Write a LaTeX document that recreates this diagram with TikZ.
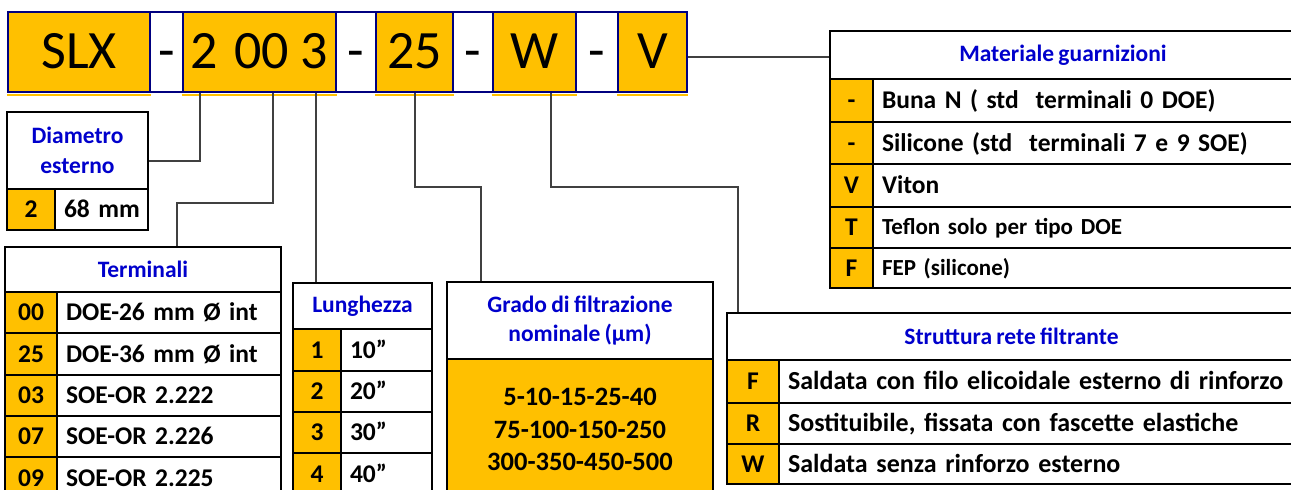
\documentclass[tikz,border=0pt]{standalone}
\usepackage{fontspec}
\setmainfont{Carlito}[WordSpace=0.8]
\definecolor{ora}{HTML}{FFC000}
\definecolor{hblue}{RGB}{0,0,204}
\definecolor{navy}{RGB}{0,0,128}
\newcommand\rc[7]{\pgfmathsetmacro\cw{#4-#2}\pgfmathsetmacro\ch{#5-#3}%
  \node[#1, minimum width=\cw pt, minimum height=\ch pt] (#6) at ({(#2+#4)/2},{(#3+#5)/2}) {#7};}
\newcommand\lc[7]{\pgfmathsetmacro\cw{#4-#2}\pgfmathsetmacro\ch{#5-#3}\pgfmathsetmacro\tw{#4-#2-18}%
  \node[#1, minimum width=\cw pt, minimum height=\ch pt, text width=\tw pt, inner xsep=9pt, align=left] (#6) at ({(#2+#4)/2},{(#3+#5)/2}) {\makebox[0pt][l]{#7}};}
\begin{document}
\begin{tikzpicture}[x=1pt,y=-1pt,
  tbl/.style={draw=black, line width=2.4pt, inner sep=0pt},
  fs/.style={font=\bfseries\fontsize{#1}{#1}\selectfont, text height=#1*0.8pt, text depth=#1*0.16pt},
  code/.style={tbl, fill=ora, fs=25.5},
  desc/.style={tbl, fill=white, fs=25.5},
  head/.style={tbl, fill=white, text=hblue, align=center, font=\bfseries\fontsize{23.5}{29.5}\selectfont},
  body/.style={tbl, fill=ora, align=center, font=\bfseries\fontsize{26.5}{32.5}\selectfont},
  barO/.style={draw=navy, line width=1.8pt, fill=ora, inner sep=0pt, font=\fontsize{54}{60}\selectfont, text height=39pt, text depth=7pt},
  barW/.style={barO, fill=white},
  shade/.style={draw=ora, line width=1.6pt},
  conn/.style={draw=black!75, line width=1.3pt}]
\useasboundingbox (0,0) rectangle (1291,490);
\clip (0,0) rectangle (1291,490);
\fill[white] (0,0) rectangle (1291,490);
% top code bar
\rc{barO}{8}{12}{150}{92}{cSLX}{SLX}
\rc{barW}{150}{12}{183}{92}{d1}{-}
\rc{barO}{183}{12}{336}{92}{c2003}{2\hspace{16pt}00\hspace{12pt}3}
\rc{barW}{336}{12}{376}{92}{d2}{-}
\rc{barO}{376}{12}{453}{92}{c25}{25}
\rc{barW}{453}{12}{493}{92}{d3}{-}
\rc{barO}{493}{12}{576}{92}{cW}{W}
\rc{barW}{576}{12}{618}{92}{d4}{-}
\rc{barO}{618}{12}{687}{92}{cV}{V}
\foreach \c in {cSLX,c2003,c25,cW,cV}
  \draw[shade] ([yshift=-1.8pt]\c.south west) -- ([yshift=-1.8pt]\c.south east);
% Diametro
\rc{head}{7}{112}{148}{189}{diamH}{Diametro\\esterno}
\rc{code}{7}{189}{55}{230}{diamC}{2}
\lc{desc}{55}{189}{148}{230}{diamD}{68 mm}
% Terminali
\rc{head}{5}{247}{281}{292}{termH}{Terminali}
\rc{code}{5}{292}{57}{333}{t1c}{00}
\lc{desc}{57}{292}{281}{333}{t1d}{DOE-26 mm Ø int}
\rc{code}{5}{333}{57}{375}{t2c}{25}
\lc{desc}{57}{333}{281}{375}{t2d}{DOE-36 mm Ø int}
\rc{code}{5}{375}{57}{416}{t3c}{03}
\lc{desc}{57}{375}{281}{416}{t3d}{SOE-OR 2.222}
\rc{code}{5}{416}{57}{457}{t4c}{07}
\lc{desc}{57}{416}{281}{457}{t4d}{SOE-OR 2.226}
\rc{code}{5}{457}{57}{499}{t5c}{09}
\lc{desc}{57}{457}{281}{499}{t5d}{SOE-OR 2.225}
% Lunghezza
\rc{head}{293}{283}{432}{329}{lunH}{Lunghezza}
\rc{code}{293}{329}{341}{371}{l1c}{1}
\lc{desc}{341}{329}{432}{371}{l1d}{10”}
\rc{code}{293}{371}{341}{412}{l2c}{2}
\lc{desc}{341}{371}{432}{412}{l2d}{20”}
\rc{code}{293}{412}{341}{453}{l3c}{3}
\lc{desc}{341}{412}{432}{453}{l3d}{30”}
\rc{code}{293}{453}{341}{495}{l4c}{4}
\lc{desc}{341}{453}{432}{495}{l4d}{40”}
% Grado
\rc{head}{447}{282}{713}{359}{graH}{Grado di filtrazione\\nominale (μm)}
\rc{body}{447}{359}{713}{500}{graB}{5-10-15-25-40\\75-100-150-250\\300-350-450-500}
% Materiale
\rc{head}{830}{31}{1296}{79}{matH}{Materiale guarnizioni}
\rc{code}{830}{79}{873}{122}{m1c}{-}
\lc{desc, fs=25.5}{873}{79}{1296}{122}{m1d}{Buna N ( std~ terminali 0 DOE)}
\rc{code}{830}{122}{873}{164}{m2c}{-}
\lc{desc, fs=25.5}{873}{122}{1296}{164}{m2d}{Silicone (std~ terminali 7 e 9 SOE)}
\rc{code}{830}{164}{873}{207}{m3c}{V}
\lc{desc, fs=25.5}{873}{164}{1296}{207}{m3d}{Viton}
\rc{code}{830}{207}{873}{248}{m4c}{T}
\lc{desc, fs=23}{873}{207}{1296}{248}{m4d}{Teflon solo per tipo DOE}
\rc{code}{830}{248}{873}{288}{m5c}{F}
\lc{desc, fs=23}{873}{248}{1296}{288}{m5d}{FEP (silicone)}
% Struttura
\rc{head}{727}{313}{1296}{360}{strH}{Struttura rete filtrante}
\rc{code}{727}{360}{779}{403}{s1c}{F}
\lc{desc, fs=26}{779}{360}{1296}{403}{s1d}{Saldata con filo elicoidale esterno di rinforzo}
\rc{code}{727}{403}{779}{444}{s2c}{R}
\lc{desc, fs=26}{779}{403}{1296}{444}{s2d}{Sostituibile, fissata con fascette elastiche}
\rc{code}{727}{444}{779}{484}{s3c}{W}
\lc{desc, fs=26}{779}{444}{1296}{484}{s3d}{Saldata senza rinforzo esterno}
% connectors
\coordinate (kT) at (177,203);
\coordinate (kG) at (481,187);
\coordinate (kS) at (738,187);
\draw[conn] (c2003.south -| 200,0) |- (diamH.east |- 0,161);
\draw[conn] (c2003.south -| 273,0) |- (kT) -- (termH.north -| kT);
\draw[conn] (c2003.south -| 316,0) -- (lunH.north -| 316,0);
\draw[conn] (c25.south -| 415,0) |- (kG) -- (graH.north -| kG);
\draw[conn] (cW.south -| 551,0) |- (kS) -- (strH.north -| kS);
\draw[conn] (cV.east |- 0,57) -- (matH.west |- 0,57);
\end{tikzpicture}
\end{document}
